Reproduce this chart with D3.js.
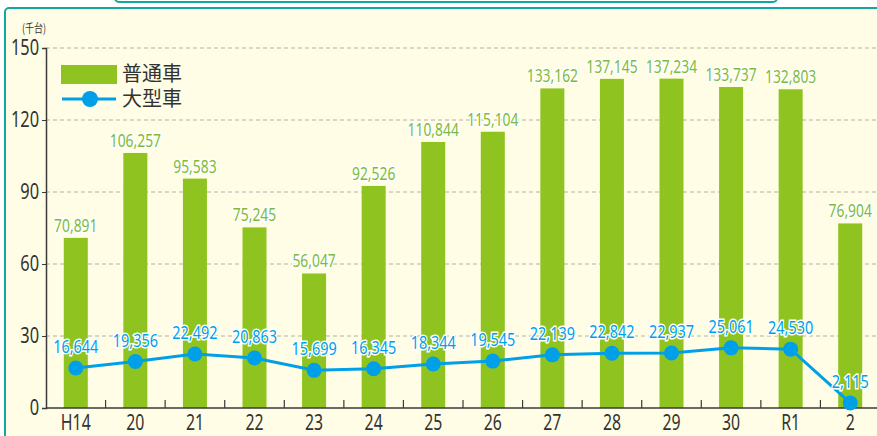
<!DOCTYPE html>
<html>
<head>
<meta charset="utf-8">
<script src="https://cdn.jsdelivr.net/npm/d3@7"></script>
<style>
  body { margin: 0; background: #fff; }
  svg { display: block; }
  .num { font-family: "Noto Sans", sans-serif; }
  .jp { font-family: "Noto Sans CJK JP", sans-serif; }
</style>
</head>
<body>
<div class="root"></div>
<script>
var categories = ["H14", "20", "21", "22", "23", "24", "25", "26", "27", "28", "29", "30", "R1", "2"];
var futsuValues = [70891, 106257, 95583, 75245, 56047, 92526, 110844, 115104, 133162, 137145, 137234, 133737, 132803, 76904];
var ogataValues = [16644, 19356, 22492, 20863, 15699, 16345, 18344, 19545, 22139, 22842, 22937, 25061, 24530, 2115];
var yTicks = [0, 30, 60, 90, 120, 150];

var width = 877, height = 436;
var green = "#8fc31f", greenText = "#7cbb3c", blue = "#00a0e9", teal = "#13a89e";

var svg = d3.select(".root").append("svg")
  .attr("width", width)
  .attr("height", height);

// squeeze the glyphs a bit, the original font is narrower
function condense(sel, ratio) {
  sel.each(function () {
    var w = this.getComputedTextLength();
    d3.select(this)
      .attr("textLength", w * ratio)
      .attr("lengthAdjust", "spacingAndGlyphs");
  });
}

// panel
svg.append("rect")
  .attr("x", 5).attr("y", 8)
  .attr("width", 900).attr("height", 460)
  .attr("rx", 4)
  .attr("fill", "#fffde5")
  .attr("stroke", teal)
  .attr("stroke-width", 2);
// bottom of title box above the panel
svg.append("rect")
  .attr("x", 115).attr("y", -20)
  .attr("width", 662).attr("height", 22)
  .attr("rx", 4)
  .attr("fill", "#fff")
  .attr("stroke", teal)
  .attr("stroke-width", 2);

var x = d3.scaleBand()
  .domain(categories)
  .range([46, 880]);
var y = d3.scaleLinear()
  .domain([0, 150])
  .range([408, 48]);

// grid
svg.append("g")
  .selectAll("line")
  .data(yTicks.filter(function (d) { return d > 0; }))
  .enter().append("line")
  .attr("x1", 46).attr("x2", width)
  .attr("y1", function (d) { return y(d); })
  .attr("y2", function (d) { return y(d); })
  .attr("stroke", "#b4b2a4")
  .attr("stroke-width", 1.2)
  .attr("stroke-dasharray", "4,3");

// bars
svg.append("g")
  .selectAll("rect")
  .data(futsuValues)
  .enter().append("rect")
  .attr("x", function (d, i) { return x(categories[i]) + x.bandwidth() / 2 - 12; })
  .attr("width", 24)
  .attr("y", function (d) { return y(d / 1000); })
  .attr("height", function (d) { return y(0) - y(d / 1000); })
  .attr("fill", green);

svg.append("g")
  .selectAll("text")
  .data(futsuValues)
  .enter().append("text")
  .attr("class", "num")
  .attr("x", function (d, i) { return x(categories[i]) + x.bandwidth() / 2; })
  .attr("y", function (d) { return y(d / 1000) - 6; })
  .attr("text-anchor", "middle")
  .attr("font-size", 18)
  .attr("fill", greenText)
  .attr("stroke", "#fff")
  .attr("stroke-width", 3)
  .attr("paint-order", "stroke")
  .text(function (d) { return d3.format(",")(d); })
  .call(condense, 0.77);

// axes
var yAxis = svg.append("g")
  .attr("transform", "translate(46,0)")
  .call(d3.axisLeft(y).tickValues(yTicks).tickSize(4).tickPadding(3));
yAxis.select(".domain").attr("stroke", "#3a3a3a").attr("stroke-width", 1.5);
yAxis.selectAll(".tick line").attr("stroke", "#3a3a3a");
yAxis.selectAll(".tick text")
  .attr("class", "num")
  .attr("font-size", 21)
  .attr("fill", "#333")
  .call(condense, 0.78);

svg.append("line")
  .attr("x1", 46).attr("x2", width)
  .attr("y1", 408).attr("y2", 408)
  .attr("stroke", "#3a3a3a")
  .attr("stroke-width", 1.5);
svg.append("g")
  .selectAll("line")
  .data(categories.slice(1))
  .enter().append("line")
  .attr("x1", function (d) { return x(d); })
  .attr("x2", function (d) { return x(d); })
  .attr("y1", 408).attr("y2", 400)
  .attr("stroke", "#3a3a3a")
  .attr("stroke-width", 1.2);
var xAxis = svg.append("g")
  .attr("transform", "translate(0,408)")
  .call(d3.axisBottom(x).tickSize(0).tickPadding(6));
xAxis.select(".domain").remove();
xAxis.selectAll(".tick text")
  .attr("class", "num")
  .attr("font-size", 22)
  .attr("fill", "#333")
  .call(condense, 0.72);

// line series
var line = d3.line()
  .x(function (d, i) { return x(categories[i]) + x.bandwidth() / 2; })
  .y(function (d) { return y(d / 1000); });
svg.append("path")
  .datum(ogataValues)
  .attr("d", line)
  .attr("fill", "none")
  .attr("stroke", blue)
  .attr("stroke-width", 3);
svg.append("g")
  .selectAll("circle")
  .data(ogataValues)
  .enter().append("circle")
  .attr("cx", function (d, i) { return x(categories[i]) + x.bandwidth() / 2; })
  .attr("cy", function (d) { return y(d / 1000); })
  .attr("r", 7.5)
  .attr("fill", blue);
svg.append("g")
  .selectAll("text")
  .data(ogataValues)
  .enter().append("text")
  .attr("class", "num")
  .attr("x", function (d, i) { return x(categories[i]) + x.bandwidth() / 2; })
  .attr("y", function (d) { return y(d / 1000) - 15; })
  .attr("text-anchor", "middle")
  .attr("font-size", 18.5)
  .attr("fill", blue)
  .attr("stroke", "#fff")
  .attr("stroke-width", 3)
  .attr("paint-order", "stroke")
  .text(function (d) { return d3.format(",")(d); })
  .call(condense, 0.78);

// unit
svg.append("text")
  .attr("class", "jp")
  .attr("x", 22).attr("y", 33)
  .attr("font-size", 12)
  .attr("fill", "#333")
  .text("(千台)")
  .call(condense, 0.75);

// legend
svg.append("rect")
  .attr("x", 61).attr("y", 65)
  .attr("width", 56).attr("height", 19)
  .attr("fill", green);
svg.append("line")
  .attr("x1", 62).attr("x2", 116)
  .attr("y1", 99).attr("y2", 99)
  .attr("stroke", blue)
  .attr("stroke-width", 3);
svg.append("circle")
  .attr("cx", 90).attr("cy", 99)
  .attr("r", 8)
  .attr("fill", blue);
svg.append("text")
  .attr("class", "jp")
  .attr("x", 122).attr("y", 74)
  .attr("dy", "0.36em")
  .attr("font-size", 20)
  .attr("fill", "#333")
  .text("普通車");
svg.append("text")
  .attr("class", "jp")
  .attr("x", 122).attr("y", 99)
  .attr("dy", "0.36em")
  .attr("font-size", 20)
  .attr("fill", "#333")
  .text("大型車");
</script>
</body>
</html>
